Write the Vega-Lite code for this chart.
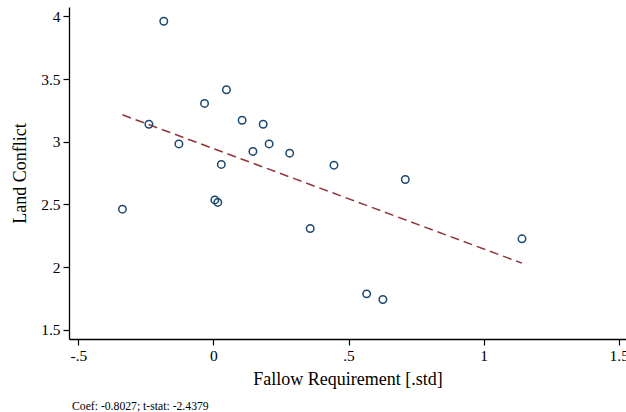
{
  "$schema": "https://vega.github.io/schema/vega-lite/v6.json",
  "autosize": {"type": "none"},
  "padding": {"left": 69, "top": 7, "right": 0, "bottom": 73},
  "width": 557,
  "height": 332,
  "background": "white",
  "config": {
    "view": {"stroke": null},
    "font": "Liberation Serif"
  },
  "title": {
    "text": "Coef: -0.8027; t-stat: -2.4379",
    "orient": "bottom",
    "anchor": "start",
    "frame": "group",
    "font": "Liberation Serif",
    "fontSize": 11.7,
    "fontWeight": "normal",
    "color": "#000000",
    "offset": 13,
    "dx": 3
  },
  "datasets": {
    "pts": [
      {"x": -0.337, "y": 2.462},
      {"x": -0.184, "y": 3.962},
      {"x": -0.239, "y": 3.140},
      {"x": -0.128, "y": 2.983},
      {"x": -0.033, "y": 3.306},
      {"x": 0.048, "y": 3.415},
      {"x": 0.029, "y": 2.819},
      {"x": 0.005, "y": 2.536},
      {"x": 0.016, "y": 2.516},
      {"x": 0.106, "y": 3.172},
      {"x": 0.146, "y": 2.923},
      {"x": 0.184, "y": 3.140},
      {"x": 0.206, "y": 2.983},
      {"x": 0.282, "y": 2.909},
      {"x": 0.358, "y": 2.308},
      {"x": 0.446, "y": 2.813},
      {"x": 0.567, "y": 1.786},
      {"x": 0.627, "y": 1.741},
      {"x": 0.710, "y": 2.699},
      {"x": 1.142, "y": 2.225}
    ],
    "fit": [
      {"x": -0.337, "y": 3.215},
      {"x": 1.142, "y": 2.031}
    ]
  },
  "layer": [
    {
      "mark": {"type": "rule", "color": "#8a8a8a", "strokeWidth": 2},
      "encoding": {"y": {"datum": 4.0755, "type": "quantitative", "scale": {"domain": [1.4258, 4.0755], "nice": false, "zero": false}}}
    },
    {
      "data": {"name": "fit"},
      "mark": {"type": "line", "color": "#90353b", "strokeWidth": 1.5, "strokeDash": [9, 5]},
      "encoding": {
        "x": {"field": "x", "type": "quantitative"},
        "y": {"field": "y", "type": "quantitative"}
      }
    },
    {
      "data": {"name": "pts"},
      "mark": {"type": "point", "shape": "circle", "filled": false, "color": "#1a476f", "strokeWidth": 1.5, "size": 56, "opacity": 1},
      "encoding": {
        "x": {
          "field": "x", "type": "quantitative",
          "scale": {"domain": [-0.5348, 1.527], "nice": false, "zero": false},
          "axis": {
            "title": "Fallow Requirement [.std]",
            "values": [-0.5, 0, 0.5, 1, 1.5],
            "labelExpr": "datum.value == -0.5 ? '-.5' : datum.value == 0.5 ? '.5' : datum.value == 1.5 ? '1.5' : datum.value == 1 ? '1' : '0'",
            "grid": false,
            "domainColor": "#000000",
            "domainWidth": 1.3,
            "tickColor": "#000000",
            "tickWidth": 1.2,
            "tickSize": 6,
            "labelFont": "Liberation Serif",
            "labelFontSize": 15.5,
            "labelColor": "#000000",
            "labelPadding": 3,
            "labelFlush": false,
            "labelOverlap": false,
            "titleFont": "Liberation Serif",
            "titleFontSize": 18,
            "titleFontWeight": "normal",
            "titleColor": "#000000",
            "titleBaseline": "alphabetic",
            "titleY": 45
          }
        },
        "y": {
          "field": "y", "type": "quantitative",
          "axis": {
            "title": "Land Conflict",
            "values": [1.5, 2, 2.5, 3, 3.5, 4],
            "labelExpr": "format(datum.value, '.1~f')",
            "grid": false,
            "domainColor": "#000000",
            "domainWidth": 1.3,
            "tickColor": "#000000",
            "tickWidth": 1.2,
            "tickSize": 6,
            "labelFont": "Liberation Serif",
            "labelFontSize": 15.5,
            "labelColor": "#000000",
            "labelPadding": 3,
            "labelFlush": false,
            "labelOverlap": false,
            "titleFont": "Liberation Serif",
            "titleFontSize": 18,
            "titleFontWeight": "normal",
            "titleColor": "#000000",
            "titleBaseline": "alphabetic",
            "titleX": -44
          }
        }
      }
    }
  ]
}
